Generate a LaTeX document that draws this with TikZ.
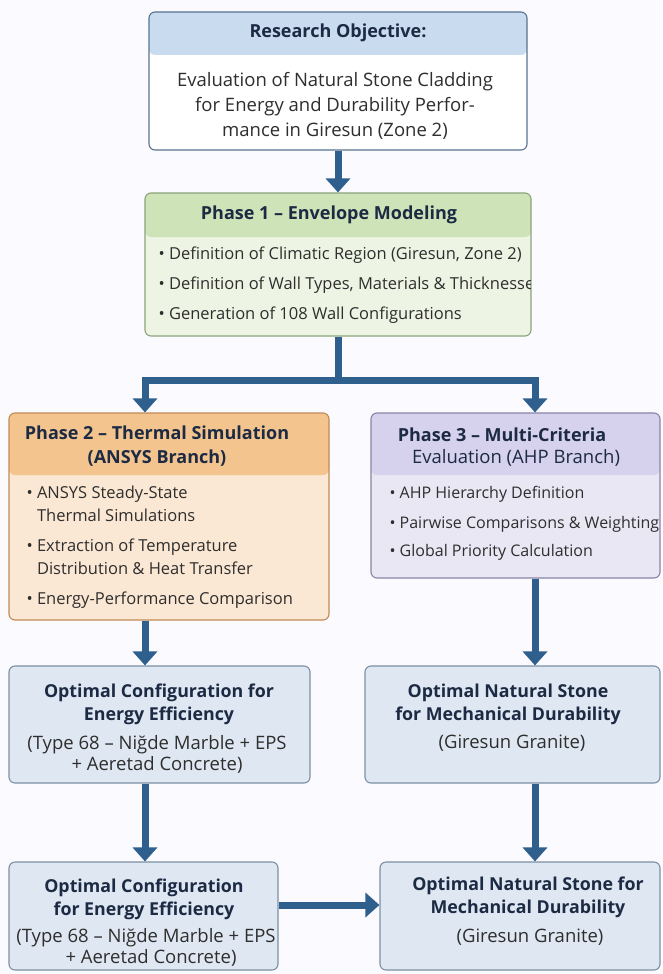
\documentclass[tikz,border=0pt]{standalone}
\usepackage{fontspec}
\setmainfont{Open Sans}
\usetikzlibrary{arrows.meta}

\definecolor{arrowblue}{HTML}{2F5F8C}
\definecolor{navy}{HTML}{1C2A44}
\definecolor{bodytext}{HTML}{2E2E2E}
\definecolor{objhead}{HTML}{C9DCEF}
\definecolor{objline}{HTML}{5A7390}
\definecolor{greenhead}{HTML}{CFE3B8}
\definecolor{greenbody}{HTML}{EEF4E3}
\definecolor{greenline}{HTML}{8AA37A}
\definecolor{orangehead}{HTML}{F3C48E}
\definecolor{orangebody}{HTML}{FBE8D4}
\definecolor{orangeline}{HTML}{C08A55}
\definecolor{lilachead}{HTML}{D6D1EC}
\definecolor{lilacbody}{HTML}{EAE7F5}
\definecolor{lilacline}{HTML}{8A83A8}
\definecolor{resultfill}{HTML}{DFE8F2}
\definecolor{resultline}{HTML}{7B8FA5}

\tikzset{
  box/.style={rectangle, rounded corners=6pt, line width=1.1pt, inner sep=0pt},
  headbox/.style 2 args={box, path picture={
      \fill[#1] (path picture bounding box.north west)
        rectangle ([yshift=-#2]path picture bounding box.north east);}},
  resultbox/.style={box, draw=resultline, fill=resultfill},
  headtext/.style={font=\fontsize{18}{24}\selectfont\bfseries, text=navy, align=center},
  bodytxt/.style={font=\fontsize{18.5}{25}\selectfont, text=bodytext, align=center},
  restitle/.style={font=\fontsize{17.8}{23}\selectfont\bfseries, text=navy, align=center},
  resdetail/.style={font=\fontsize{18.5}{21}\selectfont, text=bodytext, align=center},
  item/.style={font=\fontsize{16.5}{23}\selectfont, text=bodytext, anchor=base west, align=left},
  flow/.style={draw=arrowblue, line width=7pt, -{Triangle[width=24pt,length=14pt]}},
  flowline/.style={draw=arrowblue, line width=7pt}
}

\begin{document}
\begin{tikzpicture}[x=1pt,y=-1pt]
  \fill[white!98!blue] (0,0) rectangle (662,974);
  \useasboundingbox (0,0) rectangle (662,974);

  % research objective
  \node[headbox={objhead}{43pt}, draw=objline, fill=white,
        minimum width=378pt, minimum height=138pt] (obj) at (338,81) {};
  \node[headtext] (objT) at (338,33) {Research Objective:};
  \node[bodytxt] (objB) at (335,106)
    {Evaluation of Natural Stone Cladding\\
     for Energy and Durability Perfor-\\
     mance in Giresun (Zone 2)};

  % phase 1
  \node[headbox={greenhead}{44pt}, draw=greenline, fill=greenbody,
        minimum width=386pt, minimum height=143pt] (ph1) at (338,264.5) {};
  \node[headtext] (ph1T) at (329,215) {Phase 1 -- Envelope Modeling};
  \node[item] (ph1a) at (155,259) {\textbullet\ Definition of Climatic Region (Giresun, Zone 2)};
  \begin{scope}
    \clip (ph1.north west) rectangle ([xshift=-1pt]ph1.south east);
    \node[item] (ph1b) at (155,289) {\textbullet\ Definition of Wall Types, Materials \& Thicknesse};
  \end{scope}
  \node[item] (ph1c) at (155,319) {\textbullet\ Generation of 108 Wall Configurations};

  % phase 2
  \node[headbox={orangehead}{62pt}, draw=orangeline, fill=orangebody,
        minimum width=320pt, minimum height=207pt] (ph2) at (169,516.5) {};
  \node[headtext] (ph2T) at (157,446) {Phase 2 -- Thermal Simulation\\(ANSYS Branch)};
  \node[item] (ph2a) at (23,521) {\textbullet\ ANSYS Steady-State\\\hphantom{\textbullet\ }Thermal Simulations};
  \node[item] (ph2b) at (23,574) {\textbullet\ Extraction of Temperature\\\hphantom{\textbullet\ }Distribution \& Heat Transfer};
  \node[item] (ph2c) at (23,604) {\textbullet\ Energy-Performance Comparison};

  % phase 3
  \node[headbox={lilachead}{62pt}, draw=lilacline, fill=lilacbody,
        minimum width=289pt, minimum height=165pt] (ph3) at (515.5,495.5) {};
  \node[headtext] (ph3T) at (502,435) {Phase 3 -- Multi-Criteria};
  \node[bodytxt, text=navy] (ph3S) at (516,458) {Evaluation (AHP Branch)};
  \node[item, font=\fontsize{16}{23}\selectfont] (ph3a) at (386,498) {\textbullet\ AHP Hierarchy Definition};
  \node[item, font=\fontsize{16}{23}\selectfont] (ph3b) at (386,528) {\textbullet\ Pairwise Comparisons \& Weighting};
  \node[item, font=\fontsize{16}{23}\selectfont] (ph3c) at (386,556) {\textbullet\ Global Priority Calculation};

  % intermediate results
  \node[resultbox, minimum width=301pt, minimum height=117pt] (optE) at (159.5,724.5) {};
  \node[restitle] (optET) at (159,704) {Optimal Configuration for\\Energy Efficiency};
  \node[resdetail] (optED) at (157,754) {(Type 68 -- Niğde Marble + EPS\\+ Aeretad Concrete)};
  \node[resultbox, minimum width=295pt, minimum height=117pt] (optS) at (512.5,724.5) {};
  \node[restitle] (optST) at (508,704) {Optimal Natural Stone\\for Mechanical Durability};
  \node[resdetail] (optSD) at (512,743) {(Giresun Granite)};

  % final results
  \node[resultbox, minimum width=269pt, minimum height=108pt] (finE) at (143.5,916) {};
  \node[restitle] (finET) at (144,899) {Optimal Configuration\\for Energy Efficiency};
  \node[resdetail] (finED) at (146,947) {(Type 68 -- Niğde Marble + EPS\\\hspace*{10pt}+ Aeretad Concrete)};
  \node[resultbox, minimum width=280pt, minimum height=108pt] (finS) at (520,916) {};
  \node[restitle] (finST) at (528,897) {Optimal Natural Stone for\\Mechanical Durability};
  \node[resdetail] (finSD) at (530,937) {(Giresun Granite)};

  % connectors
  \coordinate (lx) at (145,0);
  \coordinate (rx) at (535,0);
  \coordinate (split) at (338,380);
  \coordinate (hy) at (0,905);

  \draw[flow] (obj) -- (ph1);
  \draw[flowline] (ph1) -- (split);
  \draw[flowline, {Triangle[width=24pt,length=14pt]}-{Triangle[width=24pt,length=14pt]}]
    (ph2.north -| lx) |- (split -| rx) -- (ph3.north -| rx);
  \draw[flow] (ph2.south -| lx) -- (optE.north -| lx);
  \draw[flow] (ph3.south -| rx) -- (optS.north -| rx);
  \draw[flow] (optE.south -| lx) -- (finE.north -| lx);
  \draw[flow] (optS.south -| rx) -- (finS.north -| rx);
  \draw[flow] (finE.east |- hy) -- (finS.west |- hy);
\end{tikzpicture}
\end{document}
